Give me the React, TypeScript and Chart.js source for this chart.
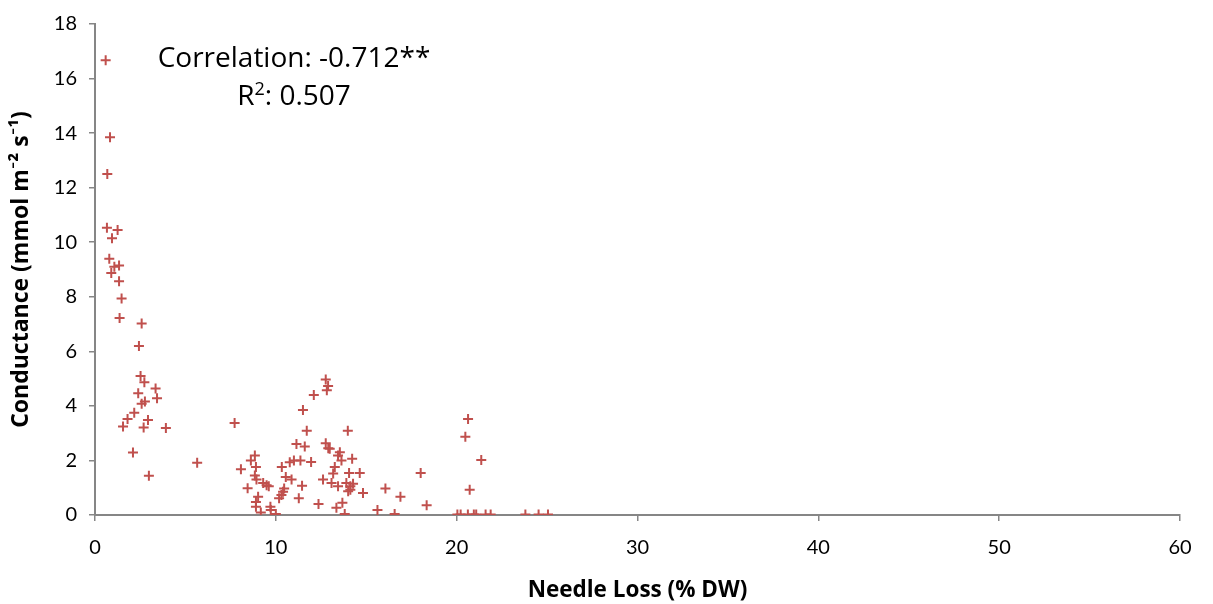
import { useEffect, useRef } from 'react';
import { Chart, registerables } from 'chart.js';

Chart.register(...registerables);

// Needle loss (% DW) — x values
const needleLoss = [
  0.59, 0.83, 0.68, 0.66, 1.25, 0.94, 0.79, 1.07, 1.33, 0.9, 1.33, 1.47, 1.36, 2.58,
  2.43, 2.52, 2.73, 3.35, 2.39, 3.43, 2.76, 2.58, 2.17, 1.8, 1.55, 2.93, 2.69, 3.92,
  2.1, 5.65, 2.98, 7.72,
  12.76, 12.89, 12.82, 12.1, 11.5, 11.71, 11.14, 11.6, 12.76, 12.9, 12.98, 13.44, 13.54,
  13.63, 14.22, 13.98, 8.84, 8.62, 8.07, 8.9, 10.33, 10.77, 11.0, 11.36, 11.95, 8.84,
  8.93, 10.55, 10.87, 9.3, 9.49, 9.61, 8.44, 11.45, 10.46, 10.4, 10.31, 12.61, 13.26,
  13.17, 13.08, 13.44, 13.9, 14.12, 14.27, 14.0, 14.12, 14.05, 14.64, 14.82, 9.02,
  11.27, 8.9, 8.9, 12.36, 13.68, 13.35, 10.18, 9.7, 9.72, 9.17, 10.0, 13.81,
  16.06, 15.62, 16.57, 16.89, 18.01, 18.34, 20.63, 20.48, 21.36, 20.72,
  20.04, 20.22, 20.62, 20.95, 21.08, 21.6, 21.88, 23.8, 24.53, 25.05,
];

// Conductance (mmol m-2 s-1) — y values
const conductance = [
  16.67, 13.85, 12.5, 10.53, 10.45, 10.15, 9.39, 9.1, 9.15, 8.87, 8.57, 7.94, 7.22, 7.02,
  6.2, 5.1, 4.87, 4.64, 4.46, 4.28, 4.16, 4.08, 3.75, 3.52, 3.24, 3.48, 3.21, 3.19,
  2.29, 1.92, 1.44, 3.37,
  4.97, 4.73, 4.57, 4.4, 3.85, 3.09, 2.6, 2.51, 2.63, 2.45, 2.43, 2.18, 2.3,
  2.0, 2.06, 3.09, 2.18, 2.0, 1.68, 1.76, 1.76, 1.93, 2.0, 2.0, 1.94, 1.45,
  1.3, 1.39, 1.3, 1.17, 1.09, 1.05, 0.98, 1.07, 0.97, 0.85, 0.73, 1.3, 1.76,
  1.52, 1.17, 1.05, 1.17, 1.05, 1.15, 0.87, 0.93, 1.54, 1.54, 0.81, 0.67,
  0.61, 0.48, 0.3, 0.4, 0.45, 0.27, 0.61, 0.3, 0.18, 0.09, 0.04, 0.04,
  0.97, 0.18, 0.04, 0.67, 1.54, 0.36, 3.52, 2.87, 2.02, 0.93,
  0.02, 0.02, 0.02, 0.02, 0.02, 0.02, 0.02, 0.02, 0.02, 0.02,
];

const xTitle = 'Needle Loss (% DW)';
const yTitle = 'Conductance (mmol m\u207B\u00B2 s\u207B\u00B9)';
const corrText = 'Correlation: -0.712**';
const r2Parts = ['R', '2', ': 0.507'];

const FONT = '"Open Sans", Lato, sans-serif';
const TICK_FONT = 'Lato, "Open Sans", sans-serif';
const AXIS_GRAY = '#868686';
const MARK_RED = '#C0504D';

const statPlugin = {
  id: 'statText',
  afterDraw(chart: any) {
    const { ctx } = chart;
    ctx.save();
    ctx.fillStyle = '#000';
    ctx.textBaseline = 'alphabetic';
    ctx.textAlign = 'center';
    ctx.font = `28px ${FONT}`;
    ctx.fillText(corrText, 294, 67);
    // R² line with a real superscript
    ctx.textAlign = 'left';
    const big = `28px ${FONT}`;
    const small = `18px ${FONT}`;
    ctx.font = big;
    const w0 = ctx.measureText(r2Parts[0]).width;
    const w2 = ctx.measureText(r2Parts[2]).width;
    ctx.font = small;
    const w1 = ctx.measureText(r2Parts[1]).width;
    let x = 294 - (w0 + w1 + w2) / 2;
    const base = 105;
    ctx.font = big;
    ctx.fillText(r2Parts[0], x, base);
    x += w0;
    ctx.font = small;
    ctx.fillText(r2Parts[1], x, base - 10);
    x += w1;
    ctx.font = big;
    ctx.fillText(r2Parts[2], x, base);
    ctx.restore();
  },
};

export default function App() {
  const canvasRef = useRef<HTMLCanvasElement | null>(null);

  useEffect(() => {
    if (!canvasRef.current) return;
    const points = needleLoss.map((x, i) => ({ x, y: conductance[i] }));
    const chart = new Chart(canvasRef.current, {
      type: 'scatter',
      data: {
        datasets: [
          {
            data: points,
            pointStyle: 'cross',
            pointRadius: 5,
            borderWidth: 2,
            borderColor: MARK_RED,
            backgroundColor: MARK_RED,
          },
        ],
      },
      plugins: [statPlugin],
      options: {
        animation: false,
        responsive: true,
        maintainAspectRatio: false,
        layout: { padding: { top: 20, right: 33, left: 0, bottom: 0 } },
        plugins: { legend: { display: false }, tooltip: { enabled: false } },
        scales: {
          x: {
            type: 'linear',
            min: 0,
            max: 60,
            ticks: { stepSize: 10, color: '#000', padding: 15, font: { size: 20, family: TICK_FONT } },
            grid: { drawOnChartArea: false, drawTicks: true, tickLength: 6, color: AXIS_GRAY, lineWidth: 1.5 },
            border: { color: AXIS_GRAY, width: 2 },
            title: {
              display: true,
              text: xTitle,
              color: '#000',
              font: { size: 22.5, weight: 'bold', family: FONT },
              padding: { top: 0, bottom: 0 },
            },
            afterFit(scale: any) {
              scale.height = 89;
            },
          },
          y: {
            type: 'linear',
            min: 0,
            max: 18,
            ticks: { stepSize: 2, color: '#000', padding: 12, font: { size: 20, family: TICK_FONT } },
            grid: { drawOnChartArea: false, drawTicks: true, tickLength: 6, color: AXIS_GRAY, lineWidth: 1.5 },
            border: { color: AXIS_GRAY, width: 2 },
            title: {
              display: true,
              text: yTitle,
              color: '#000',
              font: { size: 23, weight: 'bold', family: FONT },
              padding: { top: 8, bottom: 0 },
            },
            afterFit(scale: any) {
              scale.width = 95;
            },
          },
        },
      },
    });
    return () => chart.destroy();
  }, []);

  return (
    <div style={{ position: 'absolute', left: 0, top: 0, width: 1213, height: 604, background: '#fff' }}>
      <canvas ref={canvasRef} />
    </div>
  );
}
